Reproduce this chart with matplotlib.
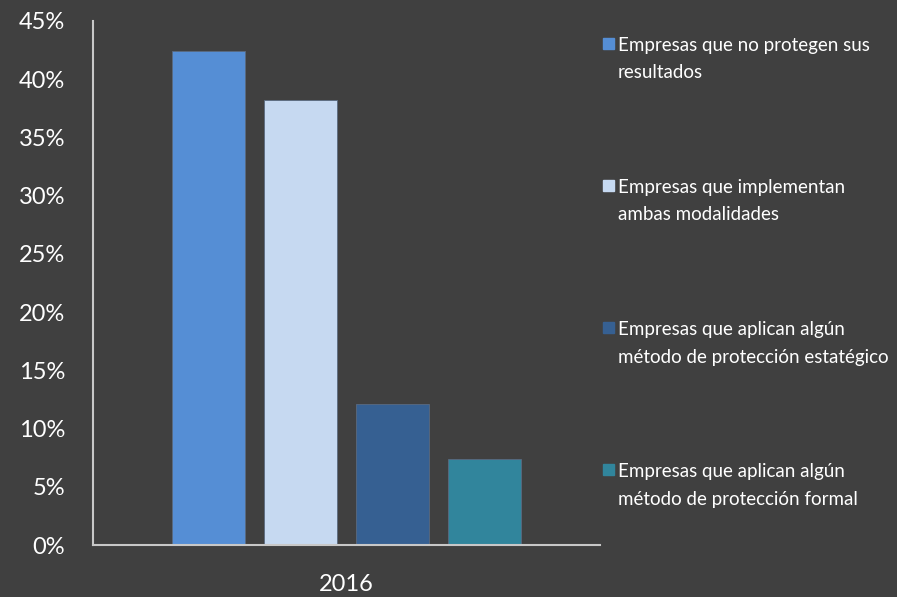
import numpy as np
import matplotlib.pyplot as plt
from matplotlib.patches import Rectangle
from matplotlib.ticker import FuncFormatter

plt.rcParams['font.family'] = ['Lato', 'DejaVu Sans']

year = '2016'
series = ['Empresas que no protegen sus\nresultados',
          'Empresas que implementan\nambas modalidades',
          'Empresas que aplican algún\nmétodo de protección estatégico',
          'Empresas que aplican algún\nmétodo de protección formal']
values = [0.424, 0.382, 0.121, 0.074]
colors = ['#558ED5', '#C6D9F1', '#366092', '#31859C']

bg = '#404040'
fig = plt.figure(figsize=(8.97, 5.97), dpi=100, facecolor=bg)
ax = fig.add_axes([93/897, 52/597, 507/897, 524/597], facecolor=bg)

x = np.arange(len(values)) - 1.5
ax.bar(x, values, width=0.79, color=colors, edgecolor='#5a6a80', linewidth=0.6)

ax.set_xlim(-2.75, 2.75)
ax.set_ylim(0, 0.45)
ax.set_yticks(np.arange(0, 0.451, 0.05))
ax.yaxis.set_major_formatter(FuncFormatter(lambda v, p: '%d%%' % round(v * 100)))
ax.set_xticks([0])
ax.set_xticklabels([year])
ax.tick_params(axis='y', length=0, pad=20, labelsize=17, labelcolor='white')
ax.tick_params(axis='x', length=0, pad=21, labelsize=17, labelcolor='white')
for s in ['top', 'right']:
    ax.spines[s].set_visible(False)
for s in ['left', 'bottom']:
    ax.spines[s].set_color('#c8c8c8')
    ax.spines[s].set_linewidth(1.5)

# legend on the right, square next to first line of each label
for i, (name, c) in enumerate(zip(series, colors)):
    ytop = 1 - (16 + i * 142) / 524
    ax.add_patch(Rectangle((1.005, ytop - 12/524), 11/507, 11/524,
                           transform=ax.transAxes, color=c, clip_on=False))
    ax.text(1.035, ytop, name, transform=ax.transAxes, va='top', ha='left',
            color='white', fontsize=13.5, linespacing=1.75)

fig.savefig('out.png', dpi=100, facecolor=bg)
